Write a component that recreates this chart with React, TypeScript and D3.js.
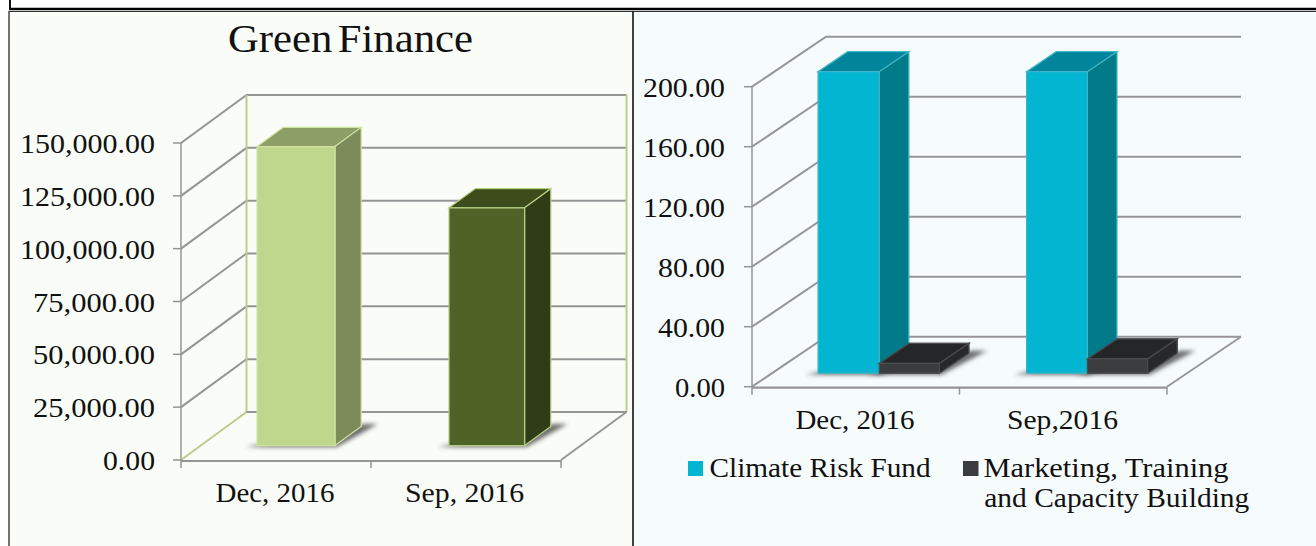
import React from "react";
import * as d3 from "d3";

const W = 1316, H = 546;
const FONT = "'Liberation Serif', serif";

// Left chart data
const leftTicks = [0, 25000, 50000, 75000, 100000, 125000, 150000];
const leftCats = ["Dec, 2016", "Sep, 2016"];
const leftValues = [141500, 112500];
// Right chart data
const rightTicks = [0, 40, 80, 120, 160, 200];
const rightCats = ["Dec, 2016", "Sep,2016"];
const climateRisk = [201, 201];
const marketing = [6.5, 9.5];
const legendLabels = ["Climate Risk Fund", "Marketing, Training", "and Capacity Building"];

const fmt = d3.format(",.2f");

type Frame = { x0: number; x1: number; y0: number; yTop: number; dx: number; dy: number; max: number };

function projector(f: Frame) {
  const xs = d3.scaleLinear().domain([0, 2]).range([f.x0, f.x1]);
  const ys = d3.scaleLinear().domain([0, f.max]).range([f.y0, f.yTop]);
  return (c: number, v: number, z: number): [number, number] => [xs(c) + z * f.dx, ys(v) + z * f.dy];
}

const poly = (pts: [number, number][]) => d3.line()(pts)! + "Z";

function Bar3D({ p, c0, c1, v, z0, z1, front, side, top, edge, shadowId }: any) {
  const A = p(c0, v, z0), B = p(c1, v, z0), C = p(c1, 0, z0), D = p(c0, 0, z0);
  const E = p(c1, v, z1), F = p(c1, 0, z1), G = p(c0, v, z1);
  const s0 = p(c0 - 0.05, 0, z0 - 0.03), s1 = p(c1 + 0.02, 0, z0 - 0.03), s2 = p(c1 + 0.07, 0, z1 + 0.05), s3 = p(c1, 0, z1 + 0.05);
  return (
    <g>
      {shadowId && <path d={poly([s0, s1, s2, s3])} fill="#3c3c3c" opacity={0.75} filter={`url(#${shadowId})`} />}
      <path d={poly([A, B, E, G])} fill={top} stroke={edge} strokeWidth={1.2} />
      <path d={poly([B, C, F, E])} fill={side} stroke={edge} strokeWidth={1.2} />
      <path d={poly([A, B, C, D])} fill={front} stroke={edge} strokeWidth={1.2} />
    </g>
  );
}

function Txt({ x, y, len, anchor, size = 28, spacing, children }: any) {
  return (
    <text x={x} y={y} fontFamily={FONT} fontSize={size} fill="#111" textAnchor={anchor ?? "start"}
      textLength={len} lengthAdjust="spacingAndGlyphs" wordSpacing={spacing}>{children}</text>
  );
}

const GRID = "#959595";

function LeftChart() {
  const f: Frame = { x0: 181, x1: 561, y0: 460, yTop: 143, dx: 65.5, dy: -48, max: 150000 };
  const p = projector(f);
  const wall = "#b9cf8c";
  const cols = [
    { front: "#bfd78d", side: "#7c8b59", top: "#8d9e66", edge: "#cfe3a0" },
    { front: "#506226", side: "#303c15", top: "#3e4b1a", edge: "#b5cf85" },
  ];
  const bars = [[0.297, 0.707], [1.307, 1.705]];
  return (
    <g>
      {leftTicks.map((t) => {
        const a = p(0, t, 0), b = p(0, t, 1), c = p(2, t, 1);
        return (
          <g key={t}>
            <line x1={a[0] - 8} y1={a[1]} x2={a[0]} y2={a[1]} stroke={GRID} strokeWidth={1.5} />
            {t > 0 && <path d={d3.line()([a, b, c])!} fill="none" stroke={GRID} strokeWidth={2} />}
            <Txt x={155} y={a[1] + 10} anchor="end" len={t >= 100000 ? 135 : t > 0 ? 122 : 52}>{fmt(t)}</Txt>
          </g>
        );
      })}
      {/* back wall and floor */}
      <path d={d3.line()([p(0, 0, 0), p(0, 0, 1), p(0, 150000, 1)])!} fill="none" stroke={wall} strokeWidth={2} />
      <path d={d3.line()([p(2, 150000, 1), p(2, 0, 1)])!} fill="none" stroke={wall} strokeWidth={2} />
      <line x1={p(0, 0, 1)[0]} y1={p(0, 0, 1)[1]} x2={p(2, 0, 1)[0]} y2={p(2, 0, 1)[1]} stroke={GRID} strokeWidth={2} />
      <path d={d3.line()([p(2, 0, 1), p(2, 0, 0)])!} fill="none" stroke={GRID} strokeWidth={1.8} />
      <line x1={f.x0} y1={f.y0} x2={f.x0} y2={f.yTop} stroke={GRID} strokeWidth={1.5} />
      <line x1={f.x0} y1={f.y0 + 1} x2={f.x1} y2={f.y0 + 1} stroke={GRID} strokeWidth={2.2} />
      {[0, 1, 2].map((i) => {
        const a = p(i, 0, 0);
        return <line key={i} x1={a[0]} y1={a[1]} x2={a[0]} y2={a[1] + 8} stroke={GRID} strokeWidth={1.5} />;
      })}
      {leftValues.map((v, i) => (
        <Bar3D key={i} p={p} c0={bars[i][0]} c1={bars[i][1]} v={v} z0={0.3} z1={0.7} {...cols[i]} shadowId="soft" />
      ))}
      {leftCats.map((c, i) => (
        <Txt key={c} x={[215.5, 405][i]} y={502} len={119}>{c}</Txt>
      ))}
      <Txt x={228} y={52} size={40} len={245} spacing={-5}>Green Finance</Txt>
    </g>
  );
}

function RightChart() {
  const f: Frame = { x0: 752, x1: 1167, y0: 386.7, yTop: 86.7, dx: 74, dy: -50, max: 200 };
  const p = projector(f);
  const teal = { front: "#02b5d0", side: "#017a89", top: "#02859a", edge: "#3fb4c8" };
  const dark = { front: "#3b3c3e", side: "#262829", top: "#242627", edge: "#4a4c4e" };
  const tealBars = [[0.222, 0.517], [1.227, 1.52]];
  const darkBars = [[0.517, 0.806], [1.52, 1.81]];
  return (
    <g>
      {rightTicks.map((t) => {
        const a = p(0, t, 0), b = p(0, t, 1), c = p(2, t, 1);
        return (
          <g key={t}>
            <line x1={a[0] - 8} y1={a[1]} x2={a[0]} y2={a[1]} stroke={GRID} strokeWidth={1.5} />
            <path d={d3.line()([a, b, c])!} fill="none" stroke={GRID} strokeWidth={2} />
            <Txt x={725} y={a[1] + 10} anchor="end" len={t >= 100 ? 82 : t > 0 ? 67 : 50}>{fmt(t)}</Txt>
          </g>
        );
      })}
      <path d={d3.line()([p(2, 0, 1), p(2, 0, 0)])!} fill="none" stroke={GRID} strokeWidth={1.8} />
      <line x1={f.x0} y1={f.y0} x2={f.x0} y2={f.yTop} stroke={GRID} strokeWidth={1.5} />
      <line x1={f.x0} y1={f.y0 + 1} x2={f.x1} y2={f.y0 + 1} stroke={GRID} strokeWidth={2.2} />
      {[0, 1, 2].map((i) => {
        const a = p(i, 0, 0);
        return <line key={i} x1={a[0]} y1={a[1]} x2={a[0]} y2={a[1] + 8} stroke={GRID} strokeWidth={1.5} />;
      })}
      {climateRisk.map((v, i) => (
        <g key={i}>
          <Bar3D p={p} c0={darkBars[i][0]} c1={darkBars[i][1]} v={marketing[i]} z0={0.27} z1={0.67} {...dark} shadowId="soft" />
          <Bar3D p={p} c0={tealBars[i][0]} c1={tealBars[i][1]} v={v} z0={0.27} z1={0.67} {...teal} shadowId="soft" />
          <Bar3D p={p} c0={darkBars[i][0]} c1={darkBars[i][1]} v={marketing[i]} z0={0.27} z1={0.67} {...dark} />
        </g>
      ))}
      {rightCats.map((c, i) => (
        <Txt key={c} x={[795.4, 1007][i]} y={429} len={[119, 111][i]}>{c}</Txt>
      ))}
      <rect x={688} y={461} width={15} height={15} fill="#02b5d0" />
      <Txt x={709.6} y={477} len={221}>{legendLabels[0]}</Txt>
      <rect x={963} y={461} width={15.5} height={15} fill="#3b3c3e" />
      <Txt x={983.5} y={477} len={245}>{legendLabels[1]}</Txt>
      <Txt x={984.3} y={507} len={265}>{legendLabels[2]}</Txt>
    </g>
  );
}

export default function App() {
  return (
    <svg width={W} height={H} style={{ position: "absolute", left: 0, top: 0, background: "#fff" }}>
      <defs>
        <filter id="soft" x="-30%" y="-60%" width="160%" height="220%">
          <feGaussianBlur stdDeviation="2" />
        </filter>
      </defs>
      <rect x={9} y={12} width={624} height={534} fill="#fafcf7" />
      <rect x={634} y={12} width={682} height={534} fill="#f6fcfc" />
      {/* table borders */}
      <line x1={10} y1={0} x2={10} y2={9} stroke="#111" strokeWidth={2} />
      <line x1={9} y1={9} x2={W} y2={9} stroke="#000" strokeWidth={2.4} />
      <line x1={9} y1={11.5} x2={W} y2={11.5} stroke="#333" strokeWidth={1} />
      <line x1={9} y1={11} x2={9} y2={H} stroke="#444" strokeWidth={1.5} />
      <line x1={633} y1={11} x2={633} y2={H} stroke="#111" strokeWidth={1.6} />
      <LeftChart />
      <RightChart />
    </svg>
  );
}
